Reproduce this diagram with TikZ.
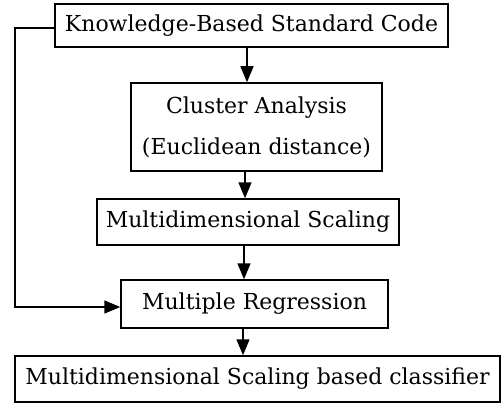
\documentclass[tikz,border=0pt]{standalone}
\usepackage{fontspec}
\setmainfont{DejaVu Serif}
\usetikzlibrary{arrows.meta}
\begin{document}
\begin{tikzpicture}[x=1pt,y=-1pt,
  box/.style={draw,line width=1.5pt,inner sep=0pt,font=\fontsize{22}{41}\selectfont,align=center},
  arr/.style={line width=1.5pt,-{Triangle[length=16pt,width=13pt]}}]
\useasboundingbox (0,0) rectangle (503,412);
\node[box,minimum width=393pt,minimum height=43pt] (b1) at (251.5,25.5) {Knowledge-Based Standard Code};
\node[box,minimum width=251pt,minimum height=88pt] (b2) at (256.5,127) {Cluster Analysis\\(Euclidean distance)};
\node[box,minimum width=302pt,minimum height=46pt] (b3) at (248,222) {Multidimensional Scaling};
\node[box,minimum width=267pt,minimum height=48pt] (b4) at (254.5,304) {Multiple Regression};
\node[box,minimum width=485pt,minimum height=46pt] (b5) at (257.5,379) {Multidimensional Scaling based classifier};
\draw[arr] (b1.south -| 247,0) -- (b2.north -| 247,0);
\draw[arr] (b2.south -| 245,0) -- (b3.north -| 245,0);
\draw[arr] (b3.south -| 244,0) -- (b4.north -| 244,0);
\draw[arr] (b4.south -| 243,0) -- (b5.north -| 243,0);
\draw[arr] (b1.west |- 0,28) -| (15,307) -- (b4.west |- 0,307);
\end{tikzpicture}
\end{document}
